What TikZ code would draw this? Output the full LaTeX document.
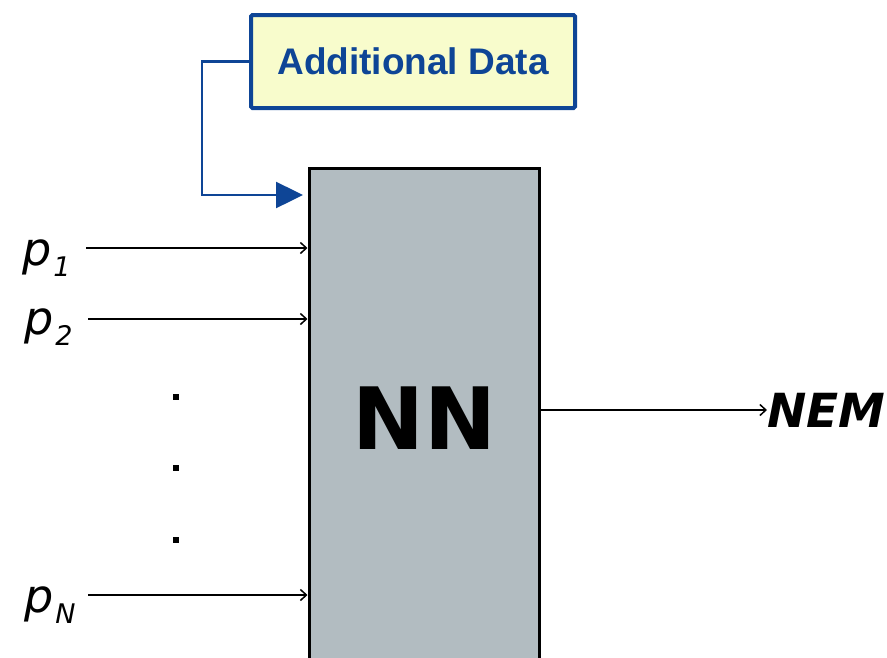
\documentclass[tikz,border=0pt]{standalone}
\usepackage{fontspec}
\setmainfont{DejaVu Sans}
\newfontfamily\arialfont{Liberation Sans}
\usetikzlibrary{arrows.meta}
\definecolor{adblue}{RGB}{14,69,150}
\definecolor{adfill}{RGB}{248,252,204}
\definecolor{nngray}{RGB}{178,188,193}
\newcommand\psub[2]{#1\kern2pt\raisebox{-11pt}{\fontsize{27}{27}\selectfont #2}}
\tikzset{
  plab/.style={inner sep=0pt, font=\fontsize{46}{50}\selectfont\itshape},
  inarr/.style={-{Straight Barb[length=6pt,width=11pt]}, line width=1.5pt},
  adbox/.style={draw=adblue, fill=adfill, line width=4pt, rounded corners=1.5pt,
    minimum width=324pt, minimum height=93pt, text=adblue,
    font=\fontsize{37}{40}\selectfont\arialfont\bfseries},
  adarr/.style={draw=adblue, line width=2.5pt, -{Triangle[length=27pt,width=26pt]}},
  nnbox/.style={draw, fill=nngray, line width=3pt, minimum width=230pt,
    minimum height=500pt, font=\fontsize{86}{90}\selectfont\bfseries},
  dotmark/.style={fill, inner sep=0pt, minimum size=5.5pt}
}
\begin{document}
\begin{tikzpicture}[x=1pt,y=-1pt]
  \useasboundingbox (0,0) rectangle (887,657);
  \node[nnbox] (nn) at (424,418) {NN};
  \node[adbox] (add) at (413,61.5) {Additional Data};
  \node[inner sep=0pt, anchor=west, font=\fontsize{47}{50}\selectfont\bfseries\itshape]
    (nem) at (767,410) {NEM};
  \node[plab, anchor=base west] (lp1) at (22,265) {\psub{p}{1}};
  \node[plab, anchor=base west] (lp2) at (24,334) {\psub{p}{2}};
  \node[plab, anchor=base west] (lpN) at (24,612) {\psub{p}{N}};
  \node[dotmark] (d1) at (176,397) {};
  \node[dotmark] (d2) at (176,468) {};
  \node[dotmark] (d3) at (176,540) {};
  \coordinate (in1) at (86,248);
  \coordinate (in2) at (88,319);
  \coordinate (inN) at (88,595);
  \coordinate (bend) at (202,61.5);
  \coordinate (adin) at (303,195);
  \begin{scope}[inarr]
    \draw (in1) -- (in1 -| nn.west);
    \draw (in2) -- (in2 -| nn.west);
    \draw (inN) -- (inN -| nn.west);
    \draw (nn.east |- nem.west) -- (nem.west);
  \end{scope}
  \draw[adarr] (add.west) -- (bend) |- (adin);
\end{tikzpicture}
\end{document}
